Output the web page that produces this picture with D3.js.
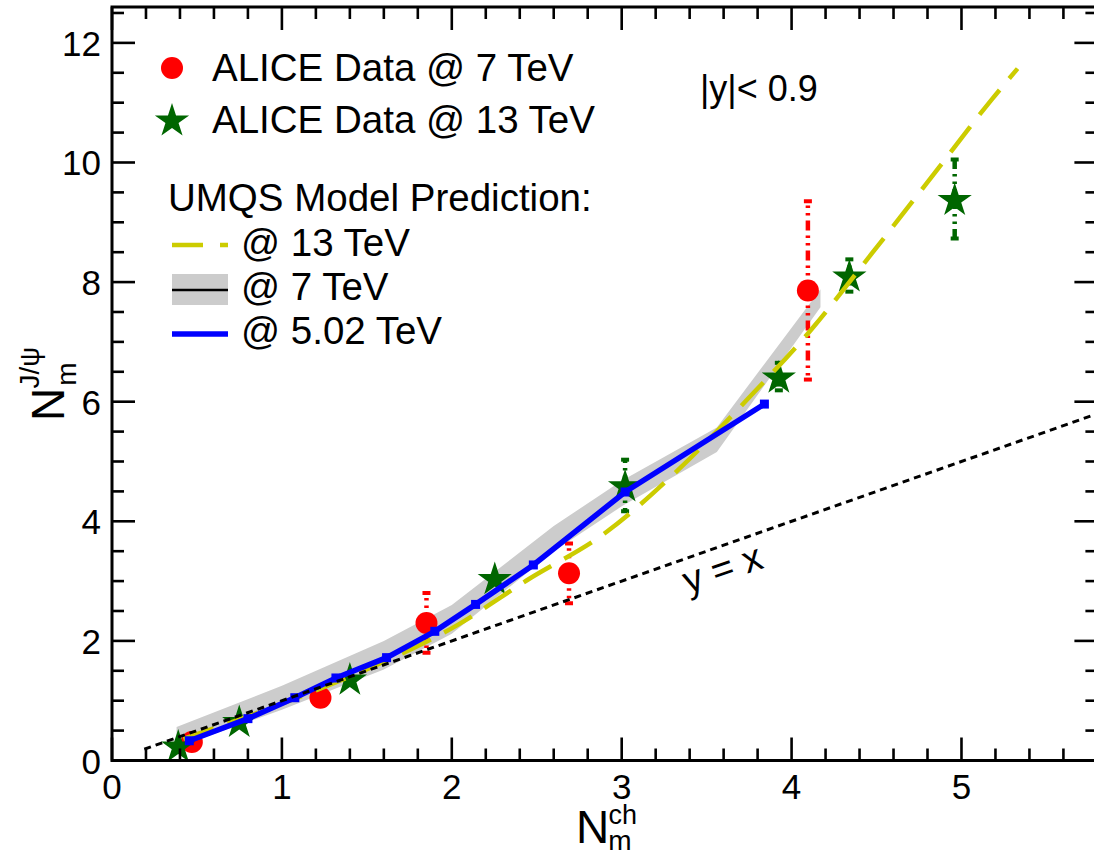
<!DOCTYPE html>
<html>
<head>
<meta charset="utf-8">
<script src="https://cdn.jsdelivr.net/npm/d3@7"></script>
<style>
  html, body { margin: 0; padding: 0; background: #fff; }
  svg { display: block; }
  text { font-family: "Liberation Sans", Arial, Helvetica, sans-serif; fill: #000; }
</style>
</head>
<body>
<svg id="chart" width="1094" height="855"></svg>
<script>
// ---------------- data ----------------
const xMajorTicks = [0, 1, 2, 3, 4, 5];
const yMajorTicks = [0, 2, 4, 6, 8, 10, 12];

// ALICE data @ 7 TeV (red circles)
const alice7X   = [0.47, 1.227, 1.851, 2.69, 4.096];
const alice7Y   = [0.31, 1.05, 2.30, 3.13, 7.86];
const alice7Err = [0, 0, 0.5, 0.5, 1.49];

// ALICE data @ 13 TeV (green stars)
const alice13X   = [0.39, 0.749, 1.40, 2.253, 3.02, 3.925, 4.34, 4.96];
const alice13Y   = [0.25, 0.66, 1.37, 3.05, 4.60, 6.42, 8.11, 9.39];
const alice13Err = [0, 0, 0, 0, 0.43, 0.23, 0.27, 0.66];

// UMQS @ 5.02 TeV (blue line with squares)
const model502X = [0.455, 0.80, 1.076, 1.318, 1.616, 1.90, 2.14, 2.48, 3.02, 3.84];
const model502Y = [0.33, 0.70, 1.05, 1.38, 1.72, 2.16, 2.61, 3.27, 4.49, 5.96];

// UMQS @ 13 TeV (yellow dashed)
const model13X = [0.42, 0.8, 1.2, 1.6, 2.03, 2.44, 2.91, 3.34, 3.74, 4.12, 4.47, 4.83, 5.18, 5.33];
const model13Y = [0.36, 0.74, 1.17, 1.65, 2.26, 3.01, 3.82, 4.88, 6.04, 7.22, 8.47, 9.78, 11.06, 11.57];

// UMQS @ 7 TeV (gray band)
const model7X     = [0.38, 1.0, 1.6, 2.0, 2.6, 3.0, 3.56, 4.17];
const model7Upper = [0.56, 1.25, 2.0, 2.6, 3.92, 4.68, 5.57, 7.88];
const model7Lower = [0.22, 0.85, 1.52, 2.12, 3.5, 4.25, 5.16, 7.58];

// y = x reference line
const diagX = [0.19, 5.8];

// ---------------- layout ----------------
const svg = d3.select("#chart");
const W = 1094, H = 855;
const x = d3.scaleLinear().domain([0, 5.8]).range([112, 1097.4]);
const y = d3.scaleLinear().domain([0, 12.6]).range([760.5, 7]);
const x0 = x.range()[0], x1 = x.range()[1];
const y0 = y.range()[0], y1 = y.range()[1];

svg.append("rect").attr("width", W).attr("height", H).attr("fill", "#fff");

const clip = svg.append("defs").append("clipPath").attr("id", "plotclip");
clip.append("rect").attr("x", x0).attr("y", y1).attr("width", x1 - x0).attr("height", y0 - y1);

const plot = svg.append("g").attr("clip-path", "url(#plotclip)");

// gray band (7 TeV)
const bandData = model7X.map((v, i) => ({x: v, lo: model7Lower[i], hi: model7Upper[i]}));
plot.append("path")
  .datum(bandData)
  .attr("d", d3.area().x(d => x(d.x)).y0(d => y(d.lo)).y1(d => y(d.hi)))
  .attr("fill", "#cccccc");

// error bars + markers
const errDash = "10,5,2.5,5,2.5,5";
function errorBars(g, xs, ys, es, color) {
  xs.forEach((xv, i) => {
    const e = es[i];
    if (!e) return;
    const cx = x(xv), cy = y(ys[i]);
    [ys[i] + e, ys[i] - e].forEach(end => {
      g.append("line").attr("x1", cx).attr("x2", cx)
        .attr("y1", cy).attr("y2", y(end))
        .attr("stroke", color).attr("stroke-width", 4.5)
        .attr("stroke-dasharray", errDash);
      g.append("line").attr("x1", cx - 4).attr("x2", cx + 4)
        .attr("y1", y(end)).attr("y2", y(end))
        .attr("stroke", color).attr("stroke-width", 4);
    });
  });
}

function starPath(R) {
  const r = R * 0.382;
  const pts = [];
  for (let k = 0; k < 10; k++) {
    const a = -Math.PI / 2 + k * Math.PI / 5;
    const rr = k % 2 === 0 ? R : r;
    pts.push([rr * Math.cos(a), rr * Math.sin(a)]);
  }
  return "M" + pts.map(p => p[0].toFixed(2) + "," + p[1].toFixed(2)).join("L") + "Z";
}

const red = "#ff0000", green = "#006600", blue = "#0000ff", yellow = "#cccc00";

const dataG = plot.append("g");
errorBars(dataG, alice7X, alice7Y, alice7Err, red);
errorBars(dataG, alice13X, alice13Y, alice13Err, green);

dataG.selectAll("circle.a7").data(alice7X).enter().append("circle")
  .attr("cx", d => x(d)).attr("cy", (d, i) => y(alice7Y[i])).attr("r", 11)
  .attr("fill", red);

dataG.selectAll("path.a13").data(alice13X).enter().append("path")
  .attr("d", starPath(18))
  .attr("transform", (d, i) => `translate(${x(d)},${y(alice13Y[i]) + 1.5})`)
  .attr("fill", green);

// yellow dashed (13 TeV)
plot.append("path")
  .datum(model13X.map((v, i) => [v, model13Y[i]]))
  .attr("d", d3.line().x(d => x(d[0])).y(d => y(d[1])).curve(d3.curveMonotoneX))
  .attr("fill", "none").attr("stroke", yellow).attr("stroke-width", 4.5)
  .attr("stroke-dasharray", "32,15");

// blue line with squares (5.02 TeV)
plot.append("path")
  .datum(model502X.map((v, i) => [v, model502Y[i]]))
  .attr("d", d3.line().x(d => x(d[0])).y(d => y(d[1])))
  .attr("fill", "none").attr("stroke", blue).attr("stroke-width", 5.5);
plot.selectAll("rect.sq").data(model502X).enter().append("rect")
  .attr("x", d => x(d) - 4.5).attr("y", (d, i) => y(model502Y[i]) - 4.5)
  .attr("width", 9).attr("height", 9).attr("fill", blue);

// y = x dotted line
plot.append("line")
  .attr("x1", x(diagX[0])).attr("y1", y(diagX[0]))
  .attr("x2", x(diagX[1])).attr("y2", y(diagX[1]))
  .attr("stroke", "#000").attr("stroke-width", 3)
  .attr("stroke-dasharray", "7,5");

// ---------------- axes / frame ----------------
const axG = svg.append("g");
const majLen = 23, minLen = 12, tickW = 2.6;
const xMinor = d3.range(0, 5.81, 0.2).filter(v => Math.abs(v - Math.round(v)) > 1e-6);
const yMinor = d3.range(0, 12.51, 0.5).filter(v => Math.abs(v / 2 - Math.round(v / 2)) > 1e-6);

// bottom & top
xMajorTicks.concat(xMinor).forEach(v => {
  const len = xMajorTicks.includes(v) ? majLen : minLen;
  const px = x(v);
  axG.append("line").attr("x1", px).attr("x2", px).attr("y1", y0).attr("y2", y0 - len)
    .attr("stroke", "#000").attr("stroke-width", tickW);
  axG.append("line").attr("x1", px).attr("x2", px).attr("y1", y1).attr("y2", y1 + len)
    .attr("stroke", "#000").attr("stroke-width", tickW);
});
// left & right
yMajorTicks.concat(yMinor).forEach(v => {
  const len = yMajorTicks.includes(v) ? majLen : minLen;
  const py = y(v);
  axG.append("line").attr("x1", x0).attr("x2", x0 + len).attr("y1", py).attr("y2", py)
    .attr("stroke", "#000").attr("stroke-width", tickW);
  axG.append("line").attr("x1", x1).attr("x2", x1 - len).attr("y1", py).attr("y2", py)
    .attr("stroke", "#000").attr("stroke-width", tickW);
});

axG.append("rect").attr("x", x0).attr("y", y1).attr("width", x1 - x0).attr("height", y0 - y1)
  .attr("fill", "none").attr("stroke", "#000").attr("stroke-width", 3);

// tick labels
axG.selectAll("text.xl").data(xMajorTicks).enter().append("text")
  .attr("x", d => x(d)).attr("y", 799).attr("text-anchor", "middle")
  .attr("font-size", 35).text(d => d);
axG.selectAll("text.yl").data(yMajorTicks).enter().append("text")
  .attr("x", 101).attr("y", d => y(d) + 13).attr("text-anchor", "end")
  .attr("font-size", 35).text(d => d);

// axis titles (single text elements with sub/superscript tspans)
const xt = svg.append("text").attr("x", 576).attr("y", 843).attr("font-size", 46);
xt.append("tspan").text("N");
xt.append("tspan").attr("font-size", 28).attr("dy", 7).attr("dx", -1).text("m");
xt.append("tspan").attr("font-size", 27).attr("dx", -23).attr("dy", -26).text("ch");

const yt = svg.append("text").attr("transform", "translate(64,421) rotate(-90)").attr("font-size", 46);
yt.append("tspan").text("N");
yt.append("tspan").attr("font-size", 28).attr("dy", 12).attr("dx", 2).text("m");
yt.append("tspan").attr("font-size", 28).attr("dx", -26).attr("dy", -37).text("J/ψ");

// annotations
svg.append("text").attr("x", 700).attr("y", 101).attr("font-size", 36).text("|y|< 0.9");
svg.append("text").attr("transform", `translate(688,594) rotate(-19)`)
  .attr("font-size", 38).text("y = x");

// ---------------- legend ----------------
const lg = svg.append("g");
const fs = 38.5;
lg.append("circle").attr("cx", 172).attr("cy", 68).attr("r", 11).attr("fill", red);
lg.append("text").attr("x", 212).attr("y", 81).attr("font-size", fs).text("ALICE Data @ 7 TeV");
lg.append("path").attr("d", starPath(18)).attr("transform", "translate(172,121)").attr("fill", green);
lg.append("text").attr("x", 212).attr("y", 133).attr("font-size", fs).text("ALICE Data @ 13 TeV");
lg.append("text").attr("x", 168).attr("y", 211).attr("font-size", fs).text("UMQS Model Prediction:");
lg.append("line").attr("x1", 172).attr("x2", 228).attr("y1", 245).attr("y2", 245)
  .attr("stroke", yellow).attr("stroke-width", 4.5).attr("stroke-dasharray", "31,17");
lg.append("text").attr("x", 241).attr("y", 256).attr("font-size", fs).text("@ 13 TeV");
lg.append("rect").attr("x", 172).attr("y", 274).attr("width", 56).attr("height", 31).attr("fill", "#cccccc");
lg.append("line").attr("x1", 172).attr("x2", 228).attr("y1", 290).attr("y2", 290)
  .attr("stroke", "#000").attr("stroke-width", 2.5);
lg.append("text").attr("x", 241).attr("y", 300).attr("font-size", fs).text("@ 7 TeV");
lg.append("line").attr("x1", 172).attr("x2", 228).attr("y1", 334).attr("y2", 334)
  .attr("stroke", blue).attr("stroke-width", 5.5);
lg.append("text").attr("x", 241).attr("y", 344).attr("font-size", fs).text("@ 5.02 TeV");
</script>
</body>
</html>
